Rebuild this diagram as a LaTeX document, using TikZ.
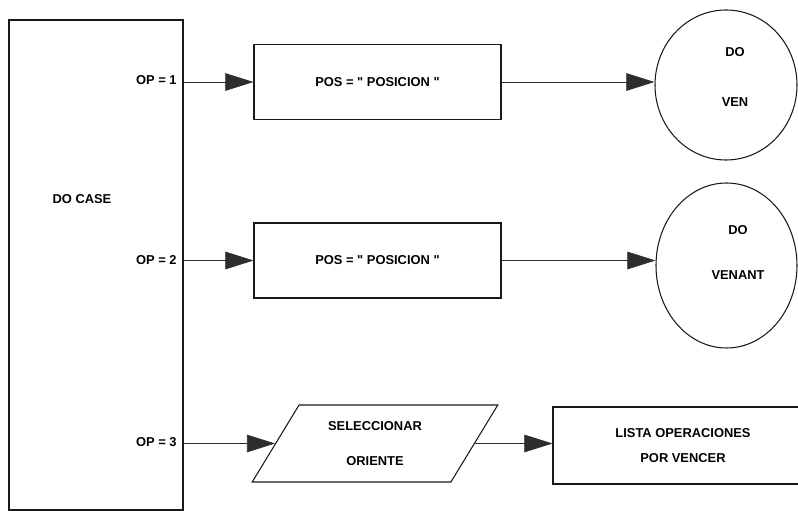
\documentclass[tikz,border=0pt]{standalone}
\usepackage{fontspec}
\setmainfont{Liberation Sans}[Ligatures=TeXOff]
\usetikzlibrary{
  arrows.meta,
  shapes.geometric
}
\definecolor{inkline}{RGB}{25, 25, 25}
\definecolor{flowclr}{RGB}{45, 45, 45}
\tikzset{
  % Texto
  lbl/.style       = {font=\fontsize{11}{13.2}\selectfont\bfseries, inner sep=1pt, align=center},
  % Cajas
  casebox/.style   = {draw=inkline, line width=0.9pt, rectangle, minimum width=5.22cm, minimum height=14.7cm},
  procbox/.style   = {draw=inkline, line width=0.9pt, rectangle, lbl, minimum width=7.41cm, minimum height=2.25cm},
  listbox/.style   = {draw=inkline, line width=0.9pt, rectangle, lbl, minimum width=7.8cm, minimum height=2.31cm},
  inbox/.style     = {draw=inkline, line width=0.9pt, trapezium, trapezium left angle=57,
                      trapezium right angle=123, trapezium stretches=true, lbl,
                      minimum width=7.38cm, minimum height=2.31cm},
  endcirc/.style   = {draw=inkline, line width=0.9pt, ellipse},
  % Flechas
  flow/.style      = {-{Triangle[length=24pt, width=15pt]}, draw=flowclr, line width=0.6pt},
}
\begin{document}
\begin{tikzpicture}[x=0.03cm, y=-0.03cm]
  \clip (0,0) rectangle (798,511);
  % DO CASE
  \node[casebox] (docase) at (96,265) {};
  \node[lbl] (casetxt) at (82,199) {DO CASE};
  \node[lbl, anchor=east] (opone) at (178,80) {OP = 1};
  \node[lbl, anchor=east] (optwo) at (178,260) {OP = 2};
  \node[lbl, anchor=east] (opthree) at (178,442) {OP = 3};
  % Procesos
  \node[procbox] (posone) at (377.5,82) {POS = " POSICION "};
  \node[procbox] (postwo) at (377.5,260.5) {POS = " POSICION "};
  \node[inbox] (selori) at (375,443.5) {SELECCIONAR\\[16pt]ORIENTE};
  \node[listbox] (lista) at (683,445.5) {LISTA OPERACIONES\\[8pt]POR VENCER};
  % Llamadas
  \node[endcirc, minimum width=4.26cm, minimum height=4.5cm] (venone) at (726,85) {};
  \node[lbl] (venonetxt) at (735,77) {DO\\[29pt]VEN};
  \node[endcirc, minimum width=4.23cm, minimum height=4.95cm] (ventwo) at (726.5,265.5) {};
  \node[lbl] (ventwotxt) at (738,252.5) {DO\\[25pt]VENANT};
  % Flechas
  \draw[flow] (docase.east |- posone.west) -- (posone.west);
  \draw[flow] (docase.east |- postwo.west) -- (postwo.west);
  \draw[flow] (docase.east |- selori.left side) -- (selori.left side);
  \draw[flow] (posone.east) -- (posone.east -| venone.west);
  \draw[flow] (postwo.east) -- (postwo.east -| ventwo.west);
  \draw[flow] (selori.right side) -- (selori.right side -| lista.west);
\end{tikzpicture}
\end{document}
